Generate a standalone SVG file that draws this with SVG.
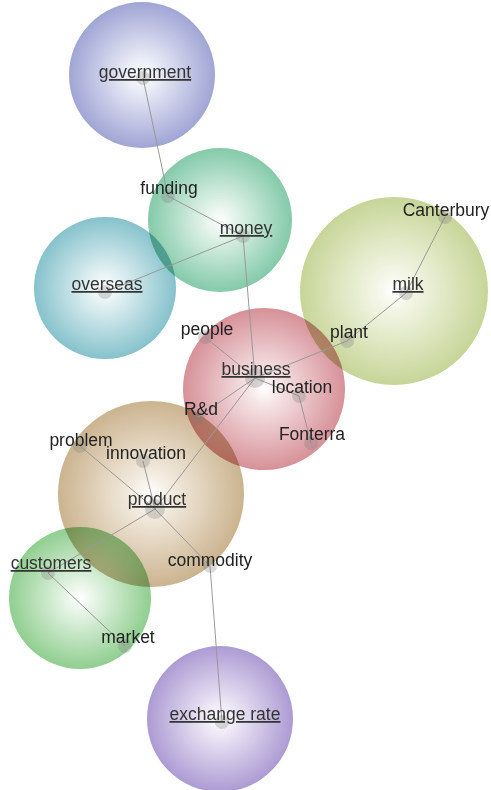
<svg xmlns="http://www.w3.org/2000/svg" width="491" height="790" viewBox="0 0 491 790">
<style>
.bub{mix-blend-mode:multiply}
.edge{stroke:#999;stroke-width:1;fill:none}
.dot{fill:#808080;fill-opacity:0.3}
text{font-family:"Liberation Sans",Arial,sans-serif;font-size:17.5px;fill:#222;text-anchor:middle}
.main{fill:#333;text-decoration:underline}
</style>
<defs>
<radialGradient id="gGov"><stop offset="0" stop-color="#fff"/><stop offset="0.2" stop-color="#eceef8"/><stop offset="1" stop-color="#a0a5d5"/></radialGradient>
<radialGradient id="gMon"><stop offset="0" stop-color="#fff"/><stop offset="0.2" stop-color="#e6f4ec"/><stop offset="1" stop-color="#84caa9"/></radialGradient>
<radialGradient id="gOve"><stop offset="0" stop-color="#fff"/><stop offset="0.2" stop-color="#e7f3f5"/><stop offset="1" stop-color="#86c2cc"/></radialGradient>
<radialGradient id="gMil"><stop offset="0" stop-color="#fff"/><stop offset="0.2" stop-color="#f3f6e6"/><stop offset="1" stop-color="#c7d598"/></radialGradient>
<radialGradient id="gBus"><stop offset="0" stop-color="#fff"/><stop offset="0.2" stop-color="#f6e4e6"/><stop offset="1" stop-color="#d69198"/></radialGradient>
<radialGradient id="gPro"><stop offset="0" stop-color="#fff"/><stop offset="0.2" stop-color="#f4ede2"/><stop offset="1" stop-color="#cbb38f"/></radialGradient>
<radialGradient id="gCus"><stop offset="0" stop-color="#fff"/><stop offset="0.2" stop-color="#e8f5e8"/><stop offset="1" stop-color="#90ce90"/></radialGradient>
<radialGradient id="gExc"><stop offset="0" stop-color="#fff"/><stop offset="0.2" stop-color="#efeaf7"/><stop offset="1" stop-color="#ac9bd3"/></radialGradient>
</defs>
<g id="clusters">
<circle class="bub" cx="142" cy="75" r="73" fill="url(#gGov)"/>
<circle class="bub" cx="220" cy="220" r="72" fill="url(#gMon)"/>
<circle class="bub" cx="105" cy="288" r="71" fill="url(#gOve)"/>
<circle class="bub" cx="394" cy="291" r="94" fill="url(#gMil)"/>
<circle class="bub" cx="264" cy="389" r="81" fill="url(#gBus)"/>
<circle class="bub" cx="151" cy="494" r="93" fill="url(#gPro)"/>
<circle class="bub" cx="80" cy="598" r="71" fill="url(#gCus)"/>
<circle class="bub" cx="220" cy="719" r="73" fill="url(#gExc)"/>
</g>
<g id="connectors">
<line class="edge" x1="143" y1="78" x2="168" y2="196"/>
<line class="edge" x1="168" y1="196" x2="243" y2="236"/>
<line class="edge" x1="243" y1="236" x2="105" y2="292"/>
<line class="edge" x1="243" y1="236" x2="255" y2="378"/>
<line class="edge" x1="255" y1="378" x2="205" y2="337"/>
<line class="edge" x1="255" y1="378" x2="347" y2="341"/>
<line class="edge" x1="347" y1="341" x2="406" y2="293"/>
<line class="edge" x1="406" y1="293" x2="445" y2="217"/>
<line class="edge" x1="255" y1="378" x2="299" y2="396"/>
<line class="edge" x1="299" y1="396" x2="311" y2="443"/>
<line class="edge" x1="255" y1="378" x2="198" y2="417"/>
<line class="edge" x1="255" y1="378" x2="155" y2="509"/>
<line class="edge" x1="155" y1="509" x2="80" y2="446"/>
<line class="edge" x1="155" y1="509" x2="143" y2="461"/>
<line class="edge" x1="155" y1="509" x2="48" y2="573"/>
<line class="edge" x1="155" y1="509" x2="210" y2="566"/>
<line class="edge" x1="48" y1="573" x2="125" y2="646"/>
<line class="edge" x1="210" y1="566" x2="222" y2="722"/>
</g>
<g id="n-government"><circle class="dot" cx="143" cy="78" r="7"/><text class="main" x="145" y="78">government</text></g>
<g id="n-funding"><circle class="dot" cx="168" cy="196" r="7"/><text x="169" y="194">funding</text></g>
<g id="n-money"><circle class="dot" cx="243" cy="236" r="7"/><text class="main" x="246" y="234">money</text></g>
<g id="n-overseas"><circle class="dot" cx="105" cy="292" r="7"/><text class="main" x="107" y="290">overseas</text></g>
<g id="n-milk"><circle class="dot" cx="406" cy="293" r="7"/><text class="main" x="408" y="290">milk</text></g>
<g id="n-canterbury"><circle class="dot" cx="445" cy="217" r="7"/><text x="446" y="216">Canterbury</text></g>
<g id="n-plant"><circle class="dot" cx="347" cy="341" r="7"/><text x="349" y="338">plant</text></g>
<g id="n-people"><circle class="dot" cx="205" cy="337" r="7"/><text x="207" y="335">people</text></g>
<g id="n-business"><circle class="dot" cx="255" cy="378" r="10"/><text class="main" x="256" y="375">business</text></g>
<g id="n-location"><circle class="dot" cx="299" cy="396" r="7"/><text x="302" y="393">location</text></g>
<g id="n-rd"><circle class="dot" cx="198" cy="417" r="7"/><text x="201" y="415">R&amp;d</text></g>
<g id="n-fonterra"><circle class="dot" cx="311" cy="443" r="7"/><text x="312" y="440">Fonterra</text></g>
<g id="n-product"><circle class="dot" cx="155" cy="509" r="10"/><text class="main" x="157" y="505">product</text></g>
<g id="n-problem"><circle class="dot" cx="80" cy="446" r="7"/><text x="81" y="446">problem</text></g>
<g id="n-innovation"><circle class="dot" cx="143" cy="461" r="7"/><text x="146" y="459">innovation</text></g>
<g id="n-commodity"><circle class="dot" cx="210" cy="566" r="7"/><text x="210" y="566">commodity</text></g>
<g id="n-customers"><circle class="dot" cx="48" cy="573" r="7"/><text class="main" x="51" y="569">customers</text></g>
<g id="n-market"><circle class="dot" cx="125" cy="646" r="7"/><text x="128" y="643">market</text></g>
<g id="n-exchange-rate"><circle class="dot" cx="222" cy="722" r="7"/><text class="main" x="225" y="720">exchange rate</text></g>
</svg>
